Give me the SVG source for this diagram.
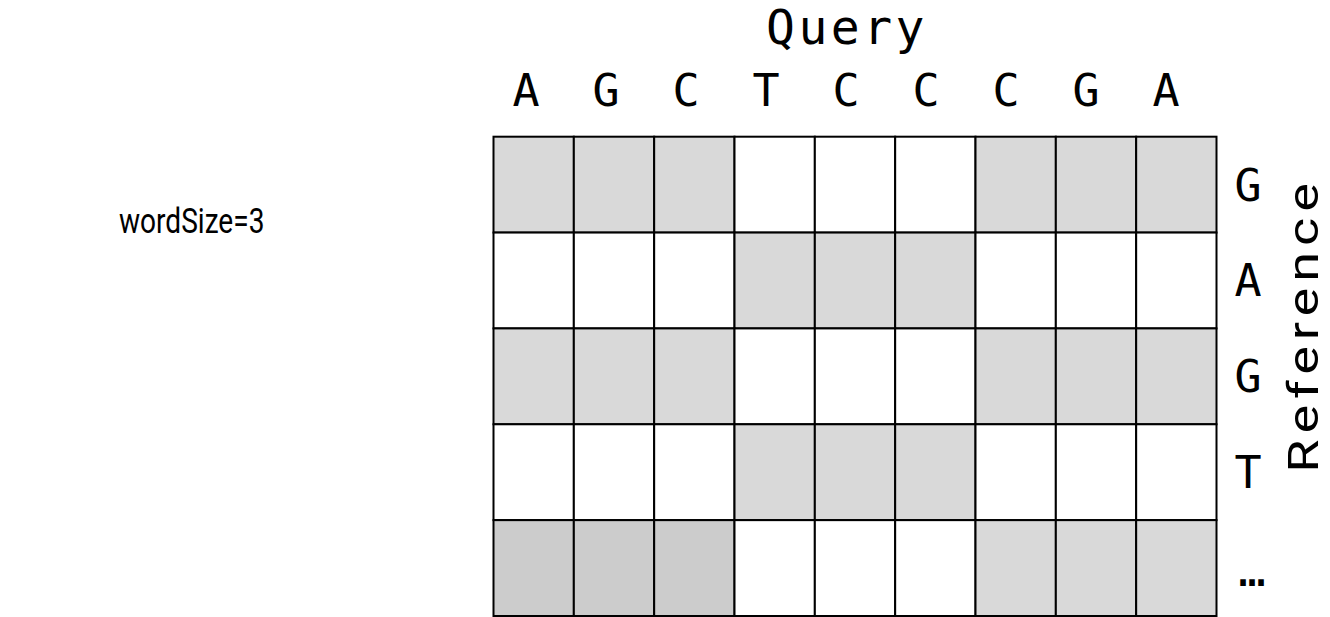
<svg xmlns="http://www.w3.org/2000/svg" width="1330" height="617" viewBox="0 0 1330 617">
  <style>
    .mono { font-family: "DejaVu Sans Mono", "Liberation Mono", monospace; fill: #000; }
    .col { font-size: 45px; text-anchor: middle; }
    .row { font-size: 45px; text-anchor: middle; dominant-baseline: central; }
    .sans { font-family: Roboto, "Liberation Sans", sans-serif; fill: #000; }
    .cell { stroke: #000; stroke-width: 2; }
    .g { fill: #d9d9d9; }
    .d { fill: #cccccc; }
    .w { fill: #ffffff; }
  </style>
  <rect width="1330" height="617" fill="#fff"/>
  <g id="label-wordsize"><text class="sans" transform="translate(119,233) scale(0.78,1)" x="0" y="0" font-size="36">wordSize=3</text></g>
  <g id="label-query"><text class="mono" x="847" y="44" font-size="48" letter-spacing="3.5" text-anchor="middle">Query</text></g>
  <g id="label-reference"><text class="sans" transform="translate(1318,328) rotate(-90) scale(1,0.8)" x="3" y="0" font-size="54" letter-spacing="6" text-anchor="middle">Reference</text></g>
  <g id="query-letters" class="mono col">
    <text x="526" y="106">A</text>
    <text x="606" y="106">G</text>
    <text x="686" y="106">C</text>
    <text x="766" y="106">T</text>
    <text x="846" y="106">C</text>
    <text x="926" y="106">C</text>
    <text x="1006" y="106">C</text>
    <text x="1086" y="106">G</text>
    <text x="1166" y="106">A</text>
  </g>
  <g id="reference-letters" class="mono row">
    <text x="1248" y="185">G</text>
    <text x="1248" y="280">A</text>
    <text x="1248" y="376">G</text>
    <text x="1248" y="472">T</text>
    <text x="1252" y="570">…</text>
  </g>
  <g id="grid">
    <g id="row1">
      <rect class="cell g" x="493.5" y="136.7" width="80.33" height="95.86"/>
      <rect class="cell g" x="573.83" y="136.7" width="80.33" height="95.86"/>
      <rect class="cell g" x="654.17" y="136.7" width="80.33" height="95.86"/>
      <rect class="cell w" x="734.5" y="136.7" width="80.33" height="95.86"/>
      <rect class="cell w" x="814.83" y="136.7" width="80.33" height="95.86"/>
      <rect class="cell w" x="895.17" y="136.7" width="80.33" height="95.86"/>
      <rect class="cell g" x="975.5" y="136.7" width="80.33" height="95.86"/>
      <rect class="cell g" x="1055.83" y="136.7" width="80.33" height="95.86"/>
      <rect class="cell g" x="1136.17" y="136.7" width="80.33" height="95.86"/>
    </g>
    <g id="row2">
      <rect class="cell w" x="493.5" y="232.56" width="80.33" height="95.86"/>
      <rect class="cell w" x="573.83" y="232.56" width="80.33" height="95.86"/>
      <rect class="cell w" x="654.17" y="232.56" width="80.33" height="95.86"/>
      <rect class="cell g" x="734.5" y="232.56" width="80.33" height="95.86"/>
      <rect class="cell g" x="814.83" y="232.56" width="80.33" height="95.86"/>
      <rect class="cell g" x="895.17" y="232.56" width="80.33" height="95.86"/>
      <rect class="cell w" x="975.5" y="232.56" width="80.33" height="95.86"/>
      <rect class="cell w" x="1055.83" y="232.56" width="80.33" height="95.86"/>
      <rect class="cell w" x="1136.17" y="232.56" width="80.33" height="95.86"/>
    </g>
    <g id="row3">
      <rect class="cell g" x="493.5" y="328.42" width="80.33" height="95.86"/>
      <rect class="cell g" x="573.83" y="328.42" width="80.33" height="95.86"/>
      <rect class="cell g" x="654.17" y="328.42" width="80.33" height="95.86"/>
      <rect class="cell w" x="734.5" y="328.42" width="80.33" height="95.86"/>
      <rect class="cell w" x="814.83" y="328.42" width="80.33" height="95.86"/>
      <rect class="cell w" x="895.17" y="328.42" width="80.33" height="95.86"/>
      <rect class="cell g" x="975.5" y="328.42" width="80.33" height="95.86"/>
      <rect class="cell g" x="1055.83" y="328.42" width="80.33" height="95.86"/>
      <rect class="cell g" x="1136.17" y="328.42" width="80.33" height="95.86"/>
    </g>
    <g id="row4">
      <rect class="cell w" x="493.5" y="424.28" width="80.33" height="95.86"/>
      <rect class="cell w" x="573.83" y="424.28" width="80.33" height="95.86"/>
      <rect class="cell w" x="654.17" y="424.28" width="80.33" height="95.86"/>
      <rect class="cell g" x="734.5" y="424.28" width="80.33" height="95.86"/>
      <rect class="cell g" x="814.83" y="424.28" width="80.33" height="95.86"/>
      <rect class="cell g" x="895.17" y="424.28" width="80.33" height="95.86"/>
      <rect class="cell w" x="975.5" y="424.28" width="80.33" height="95.86"/>
      <rect class="cell w" x="1055.83" y="424.28" width="80.33" height="95.86"/>
      <rect class="cell w" x="1136.17" y="424.28" width="80.33" height="95.86"/>
    </g>
    <g id="row5">
      <rect class="cell d" x="493.5" y="520.14" width="80.33" height="95.86"/>
      <rect class="cell d" x="573.83" y="520.14" width="80.33" height="95.86"/>
      <rect class="cell d" x="654.17" y="520.14" width="80.33" height="95.86"/>
      <rect class="cell w" x="734.5" y="520.14" width="80.33" height="95.86"/>
      <rect class="cell w" x="814.83" y="520.14" width="80.33" height="95.86"/>
      <rect class="cell w" x="895.17" y="520.14" width="80.33" height="95.86"/>
      <rect class="cell g" x="975.5" y="520.14" width="80.33" height="95.86"/>
      <rect class="cell g" x="1055.83" y="520.14" width="80.33" height="95.86"/>
      <rect class="cell g" x="1136.17" y="520.14" width="80.33" height="95.86"/>
    </g>
  </g>
</svg>
